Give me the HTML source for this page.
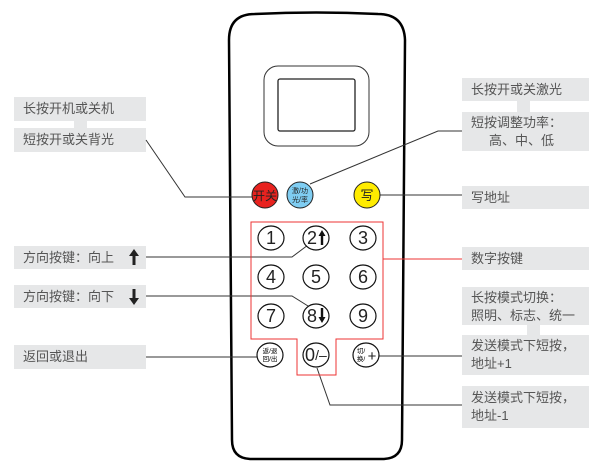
<!DOCTYPE html>
<html><head><meta charset="utf-8"><style>
body{margin:0;width:604px;height:470px;background:#fff;position:relative;overflow:hidden;font-family:"Liberation Sans","Noto Sans CJK SC",sans-serif;}
.b{position:absolute;background:#e6e7e8;color:#555;font-size:13px;line-height:18px;padding:0 0 0 9px;box-sizing:border-box;}
svg{position:absolute;left:0;top:0}
</style></head><body>
<div class="b" style="left:14px;top:97px;width:132px;height:24px;line-height:24px">长按开机或关机</div>
<div style="position:absolute;left:74px;top:121px;width:13px;height:7px;background:#e6e7e8"></div>
<div class="b" style="left:14px;top:128px;width:132px;height:24px;line-height:24px">短按开或关背光</div>
<div class="b" style="left:14px;top:246px;width:132px;height:23px;line-height:23px">方向按键：向上</div>
<div class="b" style="left:14px;top:285px;width:132px;height:23px;line-height:23px">方向按键：向下</div>
<div class="b" style="left:14px;top:345px;width:132px;height:24px;line-height:24px">返回或退出</div>

<div class="b" style="left:462px;top:78px;width:127px;height:23px;line-height:23px">长按开或关激光</div>
<div style="position:absolute;left:517px;top:101px;width:13px;height:11px;background:#e6e7e8"></div>
<div class="b" style="left:462px;top:112px;width:127px;height:39px;padding-top:2px">短按调整功率：<br>&nbsp;&nbsp;&nbsp;&nbsp;&nbsp;高、中、低</div>
<div class="b" style="left:462px;top:186px;width:127px;height:23px;line-height:23px">写地址</div>
<div class="b" style="left:462px;top:247px;width:127px;height:23px;line-height:23px">数字按键</div>
<div class="b" style="left:462px;top:287px;width:127px;height:38px;padding-top:2px">长按模式切换：<br>照明、标志、统一</div>
<div style="position:absolute;left:527px;top:325px;width:13px;height:10px;background:#e6e7e8"></div>
<div class="b" style="left:462px;top:335px;width:127px;height:40px;padding-top:2px">发送模式下短按，<br>地址+1</div>
<div class="b" style="left:462px;top:386px;width:127px;height:42px;padding-top:3px">发送模式下短按，<br>地址-1</div>

<svg width="604" height="470" viewBox="0 0 604 470" font-family="Liberation Sans, Noto Sans CJK SC, sans-serif">
<path d="M229,40 Q229,14 255,14 Q316,11 378,14 Q404,14 405,40 L402,440 Q402,458 384,459 L250,459 Q232,458 232,440 Z" fill="none" stroke="#000" stroke-width="2.5"/>
<rect x="264" y="66" width="105" height="80" rx="14" fill="none" stroke="#333" stroke-width="1"/>
<rect x="278" y="79" width="77" height="52" rx="2" fill="none" stroke="#222" stroke-width="1.3"/>
<!-- label arrows -->
<path d="M134,249 L129,256 H132.5 V265 H135.5 V256 H139 Z" fill="#222"/>
<path d="M134,305 L129,298 H132.5 V289 H135.5 V298 H139 Z" fill="#222"/>
<g stroke="#333" stroke-width="1" fill="none">
<polyline points="146,140 185,197 252,197"/>
<polyline points="146,257 292,257 308,245"/>
<polyline points="146,296 292,296 308,306"/>
<line x1="146" y1="357" x2="257" y2="357"/>
<polyline points="462,131 438,131 310,184"/>
<line x1="380" y1="195" x2="462" y2="195"/>
<line x1="378" y1="356" x2="462" y2="356"/>
<polyline points="317,368 330,405 462,405"/>
</g>
<line x1="383" y1="259" x2="462" y2="259" stroke="#e33" stroke-width="1"/>
<path d="M251,222 H383 V339 H336 V375 H297 V339 H251 Z" fill="none" stroke="#e33" stroke-width="1"/>
<circle cx="265" cy="195" r="13" fill="#e8221f" stroke="#222"/>
<text x="265" y="200" font-size="12" text-anchor="middle" fill="#222">开关</text>
<circle cx="300" cy="195" r="13" fill="#7fcdf2" stroke="#222"/>
<text x="300" y="193" font-size="7" text-anchor="middle" fill="#222">激/功</text>
<text x="300" y="202" font-size="7" text-anchor="middle" fill="#222">光/率</text>
<circle cx="367" cy="195" r="13" fill="#ffec00" stroke="#222"/>
<text x="367" y="200" font-size="13" text-anchor="middle" fill="#222">写</text>
<g fill="#fff" stroke="#111" stroke-width="1.2">
<ellipse cx="271" cy="238" rx="13" ry="12"/><ellipse cx="316" cy="238" rx="13" ry="12"/><ellipse cx="363" cy="238" rx="13" ry="12"/>
<ellipse cx="271" cy="277" rx="13" ry="12"/><ellipse cx="316" cy="277" rx="13" ry="12"/><ellipse cx="363" cy="277" rx="13" ry="12"/>
<ellipse cx="271" cy="316" rx="13" ry="12"/><ellipse cx="316" cy="316" rx="13" ry="12"/><ellipse cx="363" cy="316" rx="13" ry="12"/>
<ellipse cx="270" cy="355" rx="13" ry="12"/><ellipse cx="316" cy="355" rx="13" ry="12"/><ellipse cx="366" cy="355" rx="13" ry="12"/>
</g>
<g font-size="18" fill="#222" text-anchor="middle">
<text x="271" y="244">1</text><text x="312" y="244">2</text><text x="363" y="244">3</text>
<text x="271" y="283">4</text><text x="316" y="283">5</text><text x="363" y="283">6</text>
<text x="271" y="322">7</text><text x="312" y="322">8</text><text x="363" y="322">9</text>
<text x="310" y="361">0</text><text x="321" y="360" font-size="14">/–</text>
<text x="372" y="361" font-size="15">+</text>
</g>
<path d="M322,230 L318.5,236 H320.8 V245 H323.2 V236 H325.5 Z" fill="#111"/>
<path d="M322,323 L318.5,317 H320.8 V308 H323.2 V317 H325.5 Z" fill="#111"/>
<text x="270" y="353" font-size="6.5" text-anchor="middle">返/退</text>
<text x="270" y="361" font-size="6.5" text-anchor="middle">回/出</text>
<text x="361" y="353" font-size="6.5" text-anchor="middle">切/</text>
<text x="361" y="361" font-size="6.5" text-anchor="middle">换/</text>
</svg>
</body></html>
